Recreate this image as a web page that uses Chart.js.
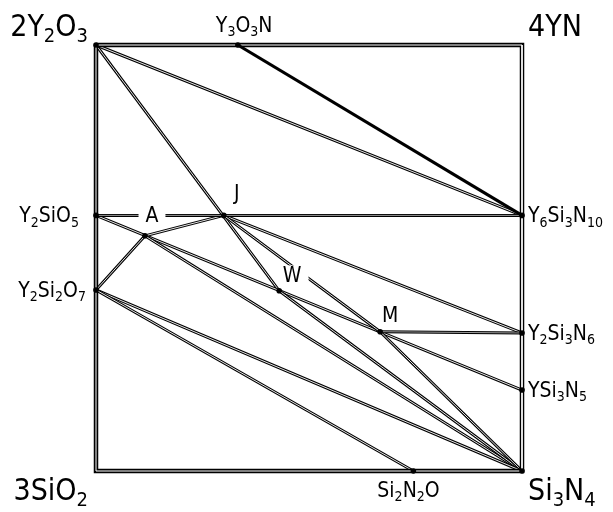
<!DOCTYPE html>
<html lang="en">
<head>
<meta charset="UTF-8" />
<title>Y-Si-O-N phase diagram</title>
<style>
  body { margin: 0; background: #fff; }
</style>
</head>
<body>
<canvas id="chart" width="613" height="512"></canvas>
<script src="https://cdn.jsdelivr.net/npm/chart.js"></script>
<script>
// x = equivalent fraction of N, y = equivalent fraction of Y
const phaseNames = ["2Y2O3", "4YN", "3SiO2", "Si3N4", "Y3O3N", "Y2SiO5", "Y2Si2O7",
  "Y6Si3N10", "Y2Si3N6", "YSi3N5", "Si2N2O", "A", "J", "W", "M"];
const phaseX = [0, 1, 0, 1, 0.333, 0, 0, 1, 1, 1, 0.745, 0.115, 0.3, 0.43, 0.667];
const phaseY = [1, 1, 0, 0, 1, 0.6, 0.425, 0.6, 0.324, 0.19, 0, 0.552, 0.6, 0.423, 0.327];

const border = ["2Y2O3", "4YN", "Si3N4", "3SiO2", "2Y2O3"];
const tieLines = [
  ["2Y2O3", "W"],
  ["2Y2O3", "Y6Si3N10"],
  ["Y2SiO5", "YSi3N5"],
  ["A", "J"],
  ["A", "Y2Si2O7"],
  ["A", "Si3N4"],
  ["J", "Y2Si3N6"],
  ["J", "M"],
  ["W", "Si3N4"],
  ["M", "Si3N4"],
  ["Y2Si2O7", "Si3N4"],
  ["Y2Si2O7", "Si2N2O"]
];
const flatLines = [
  ["Y2SiO5", "Y6Si3N10"],
  ["M", "Y2Si3N6"]
];
const heavyLine = ["Y3O3N", "Y6Si3N10"];
const junctions = ["2Y2O3", "Y3O3N", "Y2SiO5", "Y2Si2O7", "Y6Si3N10", "Y2Si3N6",
  "YSi3N5", "Si3N4", "Si2N2O", "A", "J", "W", "M"];

function pt(name) {
  const i = phaseNames.indexOf(name);
  return { x: phaseX[i], y: phaseY[i] };
}

// pushed in painting order, reversed later (chart.js paints dataset 0 on top)
const datasets = [];
function addDouble(names, outer, inner) {
  const data = names.map(pt);
  datasets.push({ data, showLine: true, borderColor: "#000", borderWidth: outer, pointRadius: 0, clip: false });
  datasets.push({ data, showLine: true, borderColor: "#fff", borderWidth: inner, pointRadius: 0, clip: false });
}
tieLines.forEach(l => addDouble(l, 3, 0.9));
flatLines.forEach(l => addDouble(l, 3, 0.6));
addDouble(border, 4.5, 1);
datasets.push({ data: heavyLine.map(pt), showLine: true, borderColor: "#000", borderWidth: 3.2, pointRadius: 0, clip: false });
datasets.push({ data: junctions.map(pt), showLine: false, pointRadius: 2.8, pointBackgroundColor: "#000", pointBorderWidth: 0, clip: false });
datasets.reverse();

// label: [text, anchor phase, dx, dy (baseline), align, size, erase background]
const labels = [
  ["2Y2O3", "2Y2O3", -8, -9, "right", 30],
  ["4YN", "4YN", 6, -9, "left", 30],
  ["3SiO2", "3SiO2", -8, 29, "right", 30],
  ["Si3N4", "Si3N4", 6, 29, "left", 30],
  ["Y3O3N", "Y3O3N", -22, -13, "left", 21],
  ["Si2N2O", "Si2N2O", -36, 26, "left", 21],
  ["Y2SiO5", "Y2SiO5", -17, 7, "right", 21],
  ["Y2Si2O7", "Y2Si2O7", -10, 7, "right", 21],
  ["Y6Si3N10", "Y6Si3N10", 6, 7, "left", 21],
  ["Y2Si3N6", "Y2Si3N6", 6, 7, "left", 21],
  ["YSi3N5", "YSi3N5", 6, 7, "left", 21],
  ["A", "A", 7, -14, "center", 21, true],
  ["J", "J", 13, -15, "center", 21],
  ["W", "W", 13, -9, "center", 21, true],
  ["M", "M", 10, -10, "center", 21]
];

const FONT = '"DejaVu Sans Condensed", "DejaVu Sans", sans-serif';

function tokens(text) {
  const out = [];
  let seenLetter = false;
  for (const ch of text) {
    const digit = ch >= "0" && ch <= "9";
    out.push({ ch, sub: digit && seenLetter });
    if (!digit) seenLetter = true;
  }
  return out;
}

function drawFormula(ctx, text, x, y, size, align, erase) {
  const toks = tokens(text);
  const subSize = Math.round(size * 0.68);
  let w = 0;
  toks.forEach(t => {
    ctx.font = (t.sub ? subSize : size) + "px " + FONT;
    t.w = ctx.measureText(t.ch).width;
    w += t.w;
  });
  let left = x;
  if (align === "right") left = x - w;
  if (align === "center") left = x - w / 2;
  if (erase) {
    ctx.fillStyle = "#fff";
    ctx.fillRect(left - 7, y - size * 0.78, w + 14, size * 0.8);
  }
  ctx.fillStyle = "#000";
  ctx.textBaseline = "alphabetic";
  ctx.textAlign = "left";
  toks.forEach(t => {
    ctx.font = (t.sub ? subSize : size) + "px " + FONT;
    ctx.fillText(t.ch, left, t.sub ? y + size * 0.2 : y);
    left += t.w;
  });
}

const labelPlugin = {
  id: "formulaLabels",
  afterDatasetsDraw(chart) {
    const ctx = chart.ctx;
    const xs = chart.scales.x, ys = chart.scales.y;
    ctx.save();
    labels.forEach(([text, anchor, dx, dy, align, size, erase]) => {
      const p = pt(anchor);
      drawFormula(ctx, text, xs.getPixelForValue(p.x) + dx, ys.getPixelForValue(p.y) + dy, size, align, erase);
    });
    ctx.restore();
  }
};

new Chart(document.getElementById("chart"), {
  type: "scatter",
  data: { datasets },
  options: {
    responsive: false,
    animation: false,
    layout: { padding: { left: 96, right: 91, top: 45, bottom: 41 } },
    plugins: { legend: { display: false }, tooltip: { enabled: false } },
    scales: {
      x: { type: "linear", min: 0, max: 1, display: false },
      y: { type: "linear", min: 0, max: 1, display: false }
    }
  },
  plugins: [labelPlugin]
});
</script>
</body>
</html>
